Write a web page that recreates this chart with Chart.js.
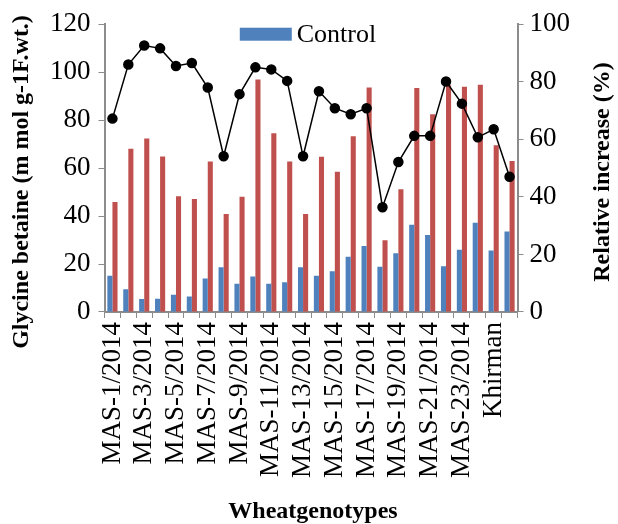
<!DOCTYPE html>
<html>
<head>
<meta charset="utf-8">
<script src="https://cdn.jsdelivr.net/npm/chart.js@4"></script>
<style>
html,body{margin:0;padding:0;background:#fff;}
#wrap{width:618px;height:524px;position:relative;}
</style>
</head>
<body>
<div id="wrap"><canvas id="c" width="618" height="524"></canvas></div>
<script>
const categories = ["MAS-1/2014","MAS-2/2014","MAS-3/2014","MAS-4/2014","MAS-5/2014","MAS-6/2014","MAS-7/2014","MAS-8/2014","MAS-9/2014","MAS-10/2014","MAS-11/2014","MAS-12/2014","MAS-13/2014","MAS-14/2014","MAS-15/2014","MAS-16/2014","MAS-17/2014","MAS-18/2014","MAS-19/2014","MAS-20/2014","MAS-21/2014","MAS-22/2014","MAS-23/2014","MAS-24/2014","Khirman","Check"];
const controlValues = [15.1,9.5,5.4,5.5,7.2,6.5,14.0,18.7,11.8,14.8,11.8,12.4,18.7,15.1,17.0,23.0,27.5,18.9,24.5,36.4,32.1,19.1,26.0,37.2,25.6,33.6];
const stressValues = [45.9,68.1,72.3,64.8,48.3,47.1,62.8,40.9,48.1,96.9,74.5,62.8,40.9,64.7,58.5,73.3,93.6,29.9,51.2,93.4,82.5,94.5,93.9,94.8,69.5,63.0];
const relativeIncrease = [67.2,86.0,92.6,91.6,85.5,86.5,78.0,54.1,75.7,85.0,84.3,80.3,54.1,76.7,70.8,68.7,70.8,36.4,52.1,61.2,61.2,80.1,72.4,60.7,63.5,47.0];
const leftTicks = [0,20,40,60,80,100,120];
const rightTicks = [0,10,20,30,40,50,60,70,80,90,100];
const xTitle = 'Wheatgenotypes';
const yTitle = 'Glycine betaine (m mol g-1F.wt.)';
const y1Title = 'Relative increase (%)';

const FONT = "'Liberation Serif','Times New Roman',serif";
const AXIS = '#8c8c8c';

const decorPlugin = {
  id:'decor',
  afterDatasetsDraw(chart){
    const ctx = chart.ctx, ca = chart.chartArea;
    const ds = chart.data.datasets[1];
    ctx.save();
    // legend
    ctx.font = '26px ' + FONT;
    const tw = ctx.measureText(ds.label).width;
    const bw = 52, bh = 13, gap = 5;
    const total = bw + gap + tw;
    const x0 = (ca.left + ca.right)/2 - total/2 - 3;
    const cy = ca.top + 10;
    ctx.fillStyle = ds.backgroundColor;
    ctx.fillRect(x0, cy - bh/2, bw, bh);
    ctx.fillStyle = '#000';
    ctx.textBaseline = 'middle';
    ctx.textAlign = 'left';
    ctx.fillText(ds.label, x0 + bw + gap, cy + 1);
    // axis titles
    ctx.font = 'bold 24px ' + FONT;
    ctx.textAlign = 'center';
    ctx.fillText(xTitle, (ca.left + ca.right)/2 + 2, chart.height - 12);
    ctx.save();
    ctx.translate(22, 182);
    ctx.rotate(-Math.PI/2);
    ctx.fillText(yTitle, 0, 0);
    ctx.restore();
    ctx.save();
    ctx.translate(603, 172);
    ctx.rotate(-Math.PI/2);
    ctx.fillText(y1Title, 0, 0);
    ctx.restore();
    ctx.restore();
  }
};

new Chart(document.getElementById('c'), {
  type: 'bar',
  data: {
    labels: categories,
    datasets: [
      {type:'line', label:'Relative increase', data: relativeIncrease, yAxisID:'y1',
       borderColor:'#000', borderWidth:1.5, pointRadius:4.5, pointBackgroundColor:'#000',
       pointBorderColor:'#000', tension:0, order:0},
      {label:'Control', data: controlValues, backgroundColor:'#4F81BD', yAxisID:'y', order:1,
       categoryPercentage:0.64, barPercentage:1.0},
      {label:'Stress', data: stressValues, backgroundColor:'#C0504D', yAxisID:'y', order:1,
       categoryPercentage:0.64, barPercentage:1.0}
    ]
  },
  plugins:[decorPlugin],
  options: {
    responsive:false,
    animation:false,
    devicePixelRatio:1,
    layout:{padding:{top:22,right:42,left:42,bottom:42}},
    plugins:{
      legend:{display:false},
      tooltip:{enabled:false}
    },
    scales:{
      x:{
        grid:{display:true, drawOnChartArea:false, drawTicks:true, tickLength:6, color:AXIS, offset:true},
        border:{color:AXIS, width:2},
        ticks:{
          autoSkip:false, maxRotation:90, minRotation:90, color:'#000', padding:4,
          font:{family:FONT, size:27},
          callback:function(v,i){ return i%2===0 ? categories[i] : ''; }
        }
      },
      y:{
        position:'left', min:0, max:120,
        afterBuildTicks:(ax)=>{ax.ticks = leftTicks.map(v=>({value:v}));},
        grid:{drawOnChartArea:false, tickLength:6, color:AXIS},
        border:{color:AXIS, width:2},
        ticks:{color:'#000', padding:8, font:{family:FONT, size:27}}
      },
      y1:{
        position:'right', min:0, max:100,
        afterBuildTicks:(ax)=>{ax.ticks = rightTicks.map(v=>({value:v}));},
        grid:{drawOnChartArea:false, tickLength:6, color:AXIS},
        border:{color:AXIS, width:2},
        ticks:{color:'#000', padding:6, font:{family:FONT, size:27}}
      }
    }
  }
});
</script>
</body>
</html>
